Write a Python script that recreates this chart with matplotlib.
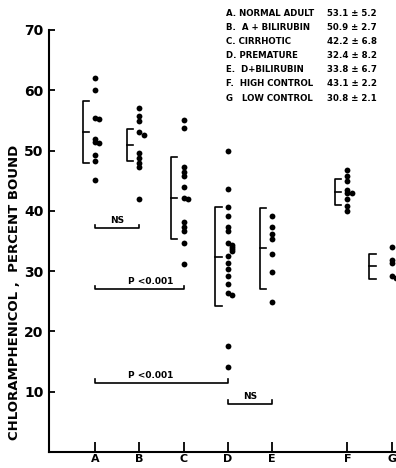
import matplotlib
matplotlib.use('Agg')
import matplotlib.pyplot as plt

plt.rcParams['font.family'] = ['DejaVu Sans']
plt.rcParams['font.weight'] = 'bold'

# ----- data -----
groups = ['A', 'B', 'C', 'D', 'E', 'F', 'G']
group_x = [1, 2, 3, 4, 5, 6.7, 7.7]

values_a = [62.1, 60.1, 55.4, 55.3, 52.0, 51.5, 51.2, 49.2, 48.3, 45.2]
values_b = [57.1, 55.7, 54.9, 53.0, 52.6, 49.6, 48.8, 47.9, 47.2, 41.9]
values_c = [55.1, 53.8, 47.2, 46.4, 45.8, 43.9, 42.1, 41.9, 38.1, 37.4, 36.6, 34.7, 31.2]
values_d = [49.9, 43.6, 40.6, 39.1, 37.3, 36.7, 34.6, 34.3, 34.0, 33.6, 33.3, 32.5,
            31.4, 30.3, 29.2, 27.9, 26.3, 26.0, 17.6, 14.1]
values_e = [39.2, 37.3, 36.1, 35.3, 32.9, 29.8, 24.9]
values_f = [46.8, 45.8, 45.0, 43.5, 42.9, 42.9, 41.9, 40.8, 39.9]
values_g = [34.0, 31.8, 31.3, 29.2, 28.9]
all_values = [values_a, values_b, values_c, values_d, values_e, values_f, values_g]

means = [53.1, 50.9, 42.2, 32.4, 33.8, 43.1, 30.8]
sds = [5.2, 2.7, 6.8, 8.2, 6.7, 2.2, 2.1]

legend_names = ['A. NORMAL ADULT', 'B.  A + BILIRUBIN', 'C. CIRRHOTIC', 'D. PREMATURE',
                'E.  D+BILIRUBIN', 'F.  HIGH CONTROL', 'G   LOW CONTROL']
legend_stats = ['53.1 ± 5.2', '50.9 ± 2.7', '42.2 ± 6.8', '32.4 ± 8.2',
                '33.8 ± 6.7', '43.1 ± 2.2', '30.8 ± 2.1']

# comparisons: (from group, to group, level, label)
comp_from = ['A', 'A', 'A', 'D']
comp_to = ['B', 'C', 'D', 'E']
comp_y = [37.1, 27.0, 11.5, 8.0]
comp_text = ['NS', 'P <0.001', 'P <0.001', 'NS']

# ----- plot -----
fig = plt.figure(figsize=(3.96, 4.68), dpi=100)
ax = fig.add_axes([49 / 396, 0.034, 1 - 49 / 396, 0.902])
ax.set_xlim(-0.04, 7.8)
ax.set_ylim(0, 70)

for gx, vals, m, s, g in zip(group_x, all_values, means, sds, groups):
    # small sideways shift for dots that touch the one above
    xs = []
    prev = None
    for v in vals:
        if prev is not None and abs(prev - v) < 0.5:
            xs.append(gx + 0.1)
        else:
            xs.append(gx)
        prev = v
    ax.plot(xs, vals, 'o', color='black', markersize=4.2, markeredgewidth=0)

    # mean +/- SD bracket
    bx = gx - (0.5 if g == 'G' else 0.28)
    w = 0.14
    ax.plot([bx + w, bx, bx, bx + w], [m + s, m + s, m - s, m - s], color='black', lw=1.2)
    ax.plot([bx, bx + w], [m, m], color='black', lw=1.2)

pos = dict(zip(groups, group_x))
for a, b, y, t in zip(comp_from, comp_to, comp_y, comp_text):
    x0, x1 = pos[a], pos[b]
    ax.plot([x0, x0, x1, x1], [y + 0.6, y, y, y + 0.6], color='black', lw=1.2)
    tx = (x0 + x1) / 2 if t == 'NS' else x0 + 0.75
    ax.text(tx, y + 0.5, t, ha='center' if t == 'NS' else 'left', va='bottom',
            fontsize=6.5, fontweight='bold')

# legend block top right (sits partly above the axes top)
for i, (n, st) in enumerate(zip(legend_names, legend_stats)):
    yy = 72.8 - i * 2.35
    ax.text(3.95, yy, n, fontsize=6.2, fontweight='bold', va='center', clip_on=False)
    ax.text(6.25, yy, st, fontsize=6.2, fontweight='bold', va='center', clip_on=False)

ax.spines['top'].set_visible(False)
ax.spines['right'].set_visible(False)
ax.spines['left'].set_linewidth(1.5)
ax.spines['bottom'].set_linewidth(1.5)

ax.set_yticks([10, 20, 30, 40, 50, 60, 70])
ax.set_yticklabels(['10', '20', '30', '40', '50', '60', '70'], fontsize=10, fontweight='bold')
ax.set_xticks(group_x)
ax.set_xticklabels(groups, fontsize=8, fontweight='bold')
ax.tick_params(axis='y', direction='in', length=4, width=1.3, pad=4)
ax.tick_params(axis='x', direction='in', length=7, width=1.3, pad=1.5)

fig.text(15 / 396, 1 - 292 / 468, 'CHLORAMPHENICOL ,  PERCENT BOUND', rotation=90,
         ha='center', va='center', fontsize=9.5, fontweight='bold')

fig.savefig('out.png', dpi=100)
